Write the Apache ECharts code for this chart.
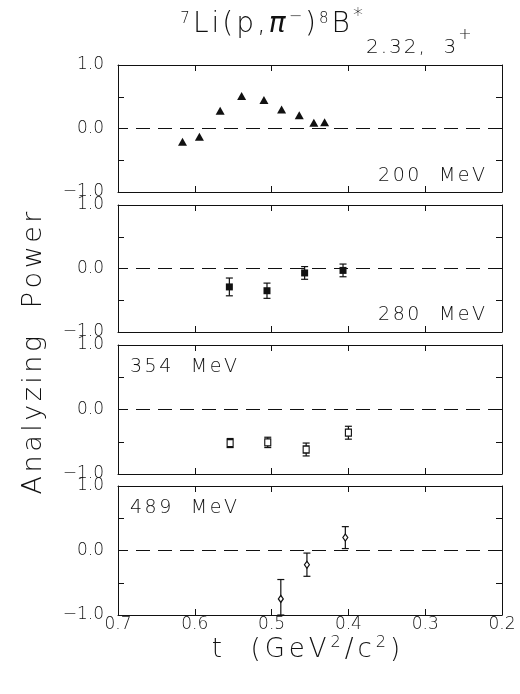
<!DOCTYPE html>
<html><head><meta charset="utf-8">
<script src="https://cdn.jsdelivr.net/npm/echarts@6/dist/echarts.min.js"></script>
<style>html,body{margin:0;padding:0;background:#fff}#c{width:520px;height:694px}</style>
</head><body><div id="c"></div>
<script>
// ---- data ----
const xTickValues = [0.7, 0.6, 0.5, 0.4, 0.3, 0.2];
const xTickLabels = ['0.7', '0.6', '0.5', '0.4', '0.3', '0.2'];
const yTickValues = [-1, -0.5, 0, 0.5, 1];
const yTickLabels = ['\u22121.0', '', '0.0', '', '1.0'];
const energies = ['200  MeV', '280  MeV', '354  MeV', '489  MeV'];

const t200 = [0.616, 0.594, 0.567, 0.539, 0.510, 0.487, 0.464, 0.445, 0.431];
const a200 = [-0.21, -0.13, 0.28, 0.51, 0.45, 0.30, 0.21, 0.09, 0.10];

const t280 = [0.555, 0.506, 0.457, 0.407];
const a280 = [-0.29, -0.35, -0.07, -0.03];
const e280 = [0.14, 0.12, 0.10, 0.10];

const t354 = [0.554, 0.505, 0.455, 0.400];
const a354 = [-0.52, -0.51, -0.62, -0.36];
const e354 = [0.07, 0.08, 0.10, 0.10];

const t489 = [0.488, 0.454, 0.404];
const a489 = [-0.75, -0.22, 0.20];
const e489 = [0.30, 0.18, 0.17];

// ---- styling ----
const FONT = '"DejaVu Sans", sans-serif';
const WT = 200;
const INK = '#111';
const panels = [
  {t: t200, a: a200, e: null, sym: 'triangle', size: [9, 8], fill: INK, label: energies[0], lx: 485, ly: 176, la: 'right'},
  {t: t280, a: a280, e: e280, sym: 'rect', size: [7, 7], fill: INK, label: energies[1], lx: 485, ly: 315, la: 'right'},
  {t: t354, a: a354, e: e354, sym: 'rect', size: [6, 7], fill: '#fff', label: energies[2], lx: 130, ly: 367, la: 'left'},
  {t: t489, a: a489, e: e489, sym: 'diamond', size: [5, 7], fill: '#fff', label: energies[3], lx: 130, ly: 508, la: 'left'}
];
const tops = [65, 205, 345, 486];
const heights = [127, 127, 129, 129];

function near(arr, v) { return arr.findIndex(a => Math.abs(a - v) < 1e-6); }

const grid = [], xAxis = [], yAxis = [], series = [];
const lineStyle = {color: INK, width: 1};
panels.forEach((p, i) => {
  grid.push({left: 118, width: 384, top: tops[i], height: heights[i]});
  [false, true].forEach(top => {
    xAxis.push({
      type: 'value', gridIndex: i, inverse: true, min: 0.2, max: 0.7, interval: 0.1,
      position: top ? 'top' : 'bottom',
      axisLine: {show: true, onZero: false, lineStyle},
      axisTick: {show: true, inside: true, length: 6, lineStyle},
      splitLine: {show: false},
      axisLabel: {
        show: !top && i === 3, margin: 1, fontSize: 17, fontFamily: FONT, fontWeight: WT, color: INK,
        formatter: v => { const k = near(xTickValues, v); return k >= 0 ? xTickLabels[k] : ''; }
      }
    });
  });
  [false, true].forEach(right => {
    yAxis.push({
      type: 'value', gridIndex: i, min: -1, max: 1, interval: 0.5,
      position: right ? 'right' : 'left',
      axisLine: {show: true, onZero: false, lineStyle},
      axisTick: {show: true, inside: true, length: 6, lineStyle},
      splitLine: {show: false},
      axisLabel: {
        show: !right, margin: 14, fontSize: 17, fontFamily: FONT, fontWeight: WT, color: INK,
        showMinLabel: true, showMaxLabel: true,
        formatter: v => { const k = near(yTickValues, v); return k >= 0 ? yTickLabels[k] : ''; }
      }
    });
  });
  if (p.e) {
    series.push({
      type: 'custom', xAxisIndex: 2 * i, yAxisIndex: 2 * i, silent: true, z: 3,
      data: p.t.map((t, k) => [t, p.a[k], p.e[k]]),
      encode: {x: 0, y: 1},
      renderItem: (params, api) => {
        const x = api.value(0), y = api.value(1), e = api.value(2);
        const hi = Math.min(y + e, 1), lo = Math.max(y - e, -1);
        const pt = api.coord([x, hi]), pb = api.coord([x, lo]);
        const cw = 3.5;
        const st = {stroke: INK, lineWidth: 1.2};
        return {type: 'group', children: [
          {type: 'line', shape: {x1: pt[0], y1: pt[1], x2: pb[0], y2: pb[1]}, style: st},
          {type: 'line', shape: {x1: pt[0] - cw, y1: pt[1], x2: pt[0] + cw, y2: pt[1]}, style: st},
          {type: 'line', shape: {x1: pb[0] - cw, y1: pb[1], x2: pb[0] + cw, y2: pb[1]}, style: st}
        ]};
      }
    });
  }
  series.push({
    type: 'scatter', xAxisIndex: 2 * i, yAxisIndex: 2 * i, z: 5, silent: true,
    symbol: p.sym, symbolSize: p.size,
    itemStyle: {color: p.fill, borderColor: INK, borderWidth: p.fill === '#fff' ? 1.2 : 0, opacity: 1},
    data: p.t.map((t, k) => [t, p.a[k]]),
    markLine: {
      silent: true, symbol: 'none', label: {show: false}, animation: false,
      lineStyle: {color: INK, width: 1, type: [14, 8]},
      data: [{yAxis: 0}]
    }
  });
});

// ---- text (letter-spaced runs, to imitate the wide plotter lettering) ----
const mctx = document.createElement('canvas').getContext('2d');
function tw(t, size, style) { mctx.font = `${style || 'normal'} ${WT} ${size}px ${FONT}`; return mctx.measureText(t).width; }
// anchor: 'left' | 'center' | 'right'; vertical: reads bottom-to-top, pos is the y coordinate
function run(pieces, anchor, pos, ls, vertical, cross) {
  const chars = [];
  pieces.forEach(p => { for (const ch of p.t) chars.push({ch, size: p.size, style: p.style, off: p.off || 0, ls: p.ls}); });
  const widths = chars.map(c => tw(c.ch, c.size, c.style));
  const gaps = chars.map(c => (c.ls !== undefined ? c.ls : ls));
  const total = widths.reduce((s, w) => s + w, 0) + gaps.slice(0, -1).reduce((s, g) => s + g, 0);
  let start = anchor === 'center' ? pos - total / 2 : anchor === 'right' ? pos - total : pos;
  let d = 0;
  return chars.map((c, k) => {
    const el = {type: 'text', silent: true,
      style: {text: c.ch, fontSize: c.size, fontFamily: FONT, fontWeight: WT, fontStyle: c.style || 'normal', fill: INK, align: 'left', verticalAlign: 'middle'}};
    if (vertical) { el.x = cross + c.off; el.y = start + total - d; el.rotation = Math.PI / 2; }
    else { el.x = start + d; el.y = cross + c.off; }
    d += widths[k] + gaps[k];
    return el;
  });
}
const titlePieces = [
  {t: '7', size: 15, off: -6},
  {t: 'Li(p,', size: 28},
  {t: '\u03c0', size: 28, style: 'italic'},
  {t: '\u2212', size: 16, off: -8},
  {t: ')', size: 28},
  {t: '8', size: 15, off: -6},
  {t: 'B', size: 28},
  {t: '*', size: 20, off: -9},
  {t: '2.32,  3', size: 20, off: 23, ls: 2},
  {t: '+', size: 16, off: 10}
];
const xTitlePieces = [
  {t: 't  (GeV', size: 26},
  {t: '2', size: 16, off: -7},
  {t: '/c', size: 26},
  {t: '2', size: 16, off: -7},
  {t: ')', size: 26}
];
const graphic = [
  ...run(titlePieces, 'center', 326, 3, false, 25),
  ...run(xTitlePieces, 'center', 306, 4, false, 650),
  ...run([{t: 'Analyzing  Power', size: 27}], 'center', 353, 3.5, true, 34),
  ...panels.flatMap(p => run([{t: p.label, size: 19}], p.la, p.lx, 2.5, false, p.ly))
];

const chart = echarts.init(document.getElementById('c'), null, {renderer: 'canvas'});
chart.setOption({animation: false, backgroundColor: '#fff', grid, xAxis, yAxis, series, graphic});
</script>
</body></html>
